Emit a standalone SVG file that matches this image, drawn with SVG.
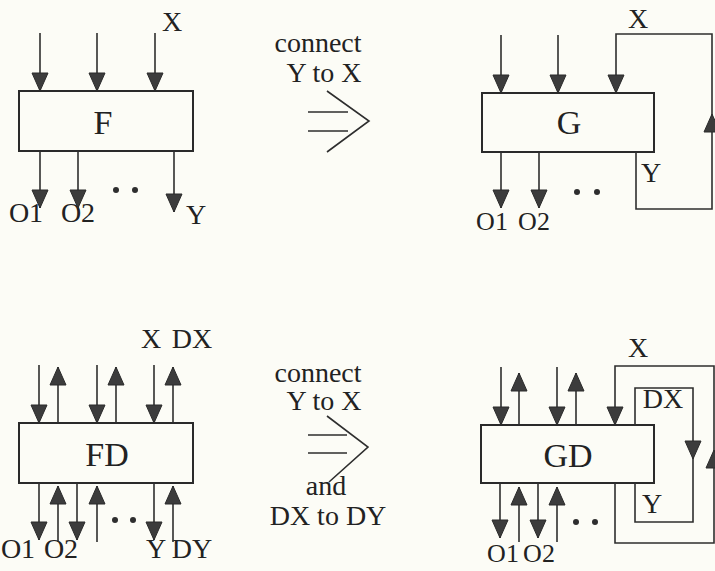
<svg xmlns="http://www.w3.org/2000/svg" xmlns:xlink="http://www.w3.org/1999/xlink" width="715" height="571" viewBox="0 0 715 571">
<style>
.bg{fill:#fcfcf6}
.box{fill:none;stroke:#2a2a2a;stroke-width:2}
.ln{fill:none;stroke:#2e2e2e;stroke-width:1.6}
.ar{marker-end:url(#ah)}
.tri{fill:#3c3c3c;stroke:#2a2a2a;stroke-width:1}
.dot{fill:#2e2e2e}
text{font-family:"Liberation Serif","Times New Roman",serif;font-size:28px;fill:#222;text-anchor:middle}
.cap{font-size:28px}
.nm{font-size:34px}
.nar{font-size:26px}
</style>
<defs>
<marker id="ah" markerUnits="userSpaceOnUse" markerWidth="20" markerHeight="20" refX="18" refY="8" orient="auto" overflow="visible">
<path d="M0,0 L18,8 L0,16 Z" fill="#3c3c3c" stroke="#2a2a2a" stroke-width="1"/>
</marker>
<path id="tri-dn" class="tri" d="M-8,-18 L8,-18 L0,0 Z"/>
<path id="tri-up" class="tri" d="M-8,18 L8,18 L0,0 Z"/>
</defs>
<rect class="bg" x="0" y="0" width="715" height="571"/>

<!-- Node F -->
<g id="node-F">
<rect class="box" x="19" y="91" width="174" height="60"/>
<text class="nm" x="103" y="134">F</text>
<text x="172" y="31">X</text>
<text x="26" y="222">O1</text>
<text x="78" y="222">O2</text>
<text x="196" y="224">Y</text>
<circle class="dot" cx="116" cy="190" r="3"/>
<circle class="dot" cx="135" cy="190" r="3"/>
</g>

<!-- Node G -->
<g id="node-G">
<rect class="box" x="482" y="93" width="172" height="59"/>
<text class="nm" x="569" y="134">G</text>
<text x="638" y="28">X</text>
<text x="651" y="182">Y</text>
<text class="nar" x="492" y="230">O1</text>
<text class="nar" x="534" y="230">O2</text>
<circle class="dot" cx="577" cy="192" r="3"/>
<circle class="dot" cx="597" cy="192" r="3"/>
</g>

<!-- Node FD -->
<g id="node-FD">
<rect class="box" x="19" y="423" width="174" height="60"/>
<text class="nm" x="107" y="466">FD</text>
<text x="151" y="348">X</text>
<text x="192" y="348">DX</text>
<text x="18" y="558">O1</text>
<text x="61" y="558">O2</text>
<text x="156" y="558">Y</text>
<text x="192" y="558">DY</text>
<circle class="dot" cx="115" cy="520" r="3"/>
<circle class="dot" cx="133" cy="520" r="3"/>
</g>

<!-- Node GD -->
<g id="node-GD">
<rect class="box" x="481" y="425" width="173" height="58"/>
<text class="nm" x="568" y="467">GD</text>
<text x="638" y="357">X</text>
<text x="663" y="408">DX</text>
<text x="652" y="513">Y</text>
<text class="nar" x="503" y="562">O1</text>
<text class="nar" x="539" y="562">O2</text>
<circle class="dot" cx="576" cy="522" r="3"/>
<circle class="dot" cx="595" cy="522" r="3"/>
</g>

<!-- Transformation arrows and captions -->
<g id="transform-1">
<text class="cap" x="318" y="52">connect</text>
<text class="cap" x="324" y="82">Y to X</text>
<path class="ln" d="M308,112 H348 M308,131 H348 M327,91 L369,121 L327,152"/>
</g>
<g id="transform-2">
<text class="cap" x="318" y="382">connect</text>
<text class="cap" x="324" y="410">Y to X</text>
<path class="ln" d="M308,435 H347 M308,453 H347 M327,416 L368,447 L329,482"/>
<text class="cap" x="326" y="495">and</text>
<text class="cap" x="328" y="525">DX to DY</text>
</g>

<!-- Connectors -->
<g id="connectors">
<!-- F -->
<line class="ln ar" x1="40" y1="33" x2="40" y2="91"/>
<line class="ln ar" x1="97" y1="33" x2="97" y2="91"/>
<line class="ln ar" x1="155" y1="33" x2="155" y2="91"/>
<line class="ln ar" x1="40" y1="151" x2="40" y2="208"/>
<line class="ln ar" x1="78" y1="151" x2="78" y2="208"/>
<line class="ln ar" x1="174" y1="151" x2="174" y2="212"/>
<!-- G -->
<line class="ln ar" x1="501" y1="35" x2="501" y2="93"/>
<line class="ln ar" x1="558" y1="35" x2="558" y2="93"/>
<path class="ln ar" d="M636,152 V209 H712 V34 H616 V93"/>
<use xlink:href="#tri-up" x="712" y="114"/>
<line class="ln ar" x1="501" y1="152" x2="501" y2="208"/>
<line class="ln ar" x1="539" y1="152" x2="539" y2="208"/>
<!-- FD top -->
<line class="ln ar" x1="39" y1="365" x2="39" y2="423"/>
<line class="ln ar" x1="97" y1="365" x2="97" y2="423"/>
<line class="ln ar" x1="154" y1="365" x2="154" y2="423"/>
<line class="ln ar" x1="58" y1="423" x2="58" y2="367"/>
<line class="ln ar" x1="116" y1="423" x2="116" y2="367"/>
<line class="ln ar" x1="173" y1="423" x2="173" y2="367"/>
<!-- FD bottom -->
<line class="ln ar" x1="39" y1="483" x2="39" y2="540"/>
<line class="ln ar" x1="77" y1="483" x2="77" y2="540"/>
<line class="ln ar" x1="154" y1="483" x2="154" y2="540"/>
<line class="ln ar" x1="58" y1="542" x2="58" y2="486"/>
<line class="ln ar" x1="97" y1="542" x2="97" y2="486"/>
<line class="ln ar" x1="173" y1="542" x2="173" y2="486"/>
<!-- GD top -->
<line class="ln ar" x1="501" y1="367" x2="501" y2="425"/>
<line class="ln ar" x1="557" y1="367" x2="557" y2="425"/>
<line class="ln ar" x1="519" y1="425" x2="519" y2="373"/>
<line class="ln ar" x1="576" y1="425" x2="576" y2="373"/>
<!-- GD loops -->
<path class="ln ar" d="M615,483 V543 H714 V366 H615 V425"/>
<use xlink:href="#tri-up" x="714" y="450"/>
<path class="ln" d="M635,425 V388 H693 V522 H635 V483"/>
<use xlink:href="#tri-dn" x="693" y="459"/>
<!-- GD bottom -->
<line class="ln ar" x1="500" y1="483" x2="500" y2="538"/>
<line class="ln ar" x1="538" y1="483" x2="538" y2="538"/>
<line class="ln ar" x1="519" y1="542" x2="519" y2="487"/>
<line class="ln ar" x1="557" y1="542" x2="557" y2="487"/>
</g>
</svg>
